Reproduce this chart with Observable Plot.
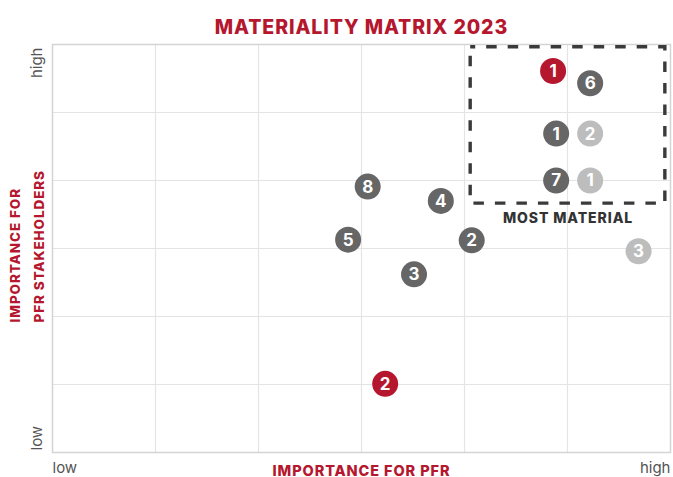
<!DOCTYPE html>
<html>
<head>
<meta charset="utf-8">
<script src="https://cdn.jsdelivr.net/npm/d3@7"></script>
<script src="https://cdn.jsdelivr.net/npm/@observablehq/plot@0.6"></script>
<style>
  html, body { margin: 0; padding: 0; background: #fff; }
  #chart svg { display: block; }
  #chart svg text { font-family: "Inter", sans-serif; }
  #chart svg g[font-weight="800"] text { letter-spacing: 0.9px; }
</style>
</head>
<body>
<div id="chart"></div>
<script>
// Point labels, positions (0 = low, 6 = high) and group
const labels = ["1", "6", "1", "2", "7", "1", "8", "4", "5", "2", "3", "3", "2"];
const importancePFR = [4.86, 5.22, 4.89, 5.22, 4.89, 5.22, 3.06, 3.77, 2.87, 4.07, 3.51, 5.69, 3.23];
const importanceStakeholders = [5.61, 5.43, 4.69, 4.69, 4.00, 4.00, 3.91, 3.70, 3.13, 3.12, 2.62, 2.96, 1.01];
const groups = ["red", "dark", "dark", "light", "dark", "light", "dark", "dark", "dark", "dark", "dark", "light", "red"];
const groupNames = ["red", "dark", "light"];
const groupColors = ["#b5172e", "#666666", "#bdbdbd"];
const gridTicks = [1, 2, 3, 4, 5];
const boxX = [4.06, 5.95];
const boxY = [3.66, 5.96];
const boxLabel = "MOST MATERIAL";
const xTickLabels = ["low", "high"];
const yTickLabels = ["low", "high"];

const points = labels.map((l, i) => ({label: l, x: importancePFR[i], y: importanceStakeholders[i], g: groups[i]}));
const red = "#b5172e";
const ff = "Inter";

const chart = Plot.plot({
  width: 673,
  height: 477,
  marginTop: 44,
  marginBottom: 25,
  marginLeft: 52,
  marginRight: 3,
  x: {domain: [0, 6], axis: null},
  y: {domain: [0, 6], axis: null},
  color: {domain: groupNames, range: groupColors},
  marks: [
    Plot.ruleX(gridTicks, {stroke: "#e4e4e4", strokeWidth: 1.2}),
    Plot.ruleY(gridTicks, {stroke: "#e4e4e4", strokeWidth: 1.2}),
    Plot.frame({stroke: "#d4d4d4", strokeWidth: 1.5}),
    Plot.rect([{x1: boxX[0], x2: boxX[1], y1: boxY[0], y2: boxY[1]}], {
      x1: "x1", x2: "x2", y1: "y1", y2: "y2",
      fill: "none", stroke: "#3a3a3a", strokeWidth: 3.4,
      strokeDasharray: "10.5,11", strokeDashoffset: 5.5
    }),
    Plot.text([boxLabel], {
      x: (boxX[0] + boxX[1]) / 2, y: boxY[0], dy: 15,
      text: d => d, fontSize: 14, fontWeight: 800, fill: "#333", fontFamily: ff
    }),
    Plot.dot(points, {x: "x", y: "y", r: 13, fill: "g", stroke: "none"}),
    Plot.text(points, {x: "x", y: "y", text: "label", fill: "white", fontSize: 17, fontWeight: "bold", dy: 0.5, fontFamily: ff}),
    // axis end labels
    Plot.text([xTickLabels[0]], {x: 0, frameAnchor: "bottom", dy: 20, textAnchor: "start", text: d => d, fontSize: 15, fill: "#555", fontFamily: ff}),
    Plot.text([xTickLabels[1]], {x: 6, frameAnchor: "bottom", dy: 20, textAnchor: "end", text: d => d, fontSize: 15, fill: "#555", fontFamily: ff}),
    Plot.text([yTickLabels[0]], {y: 0, frameAnchor: "left", dx: -15, dy: -2, rotate: -90, textAnchor: "start", text: d => d, fontSize: 15, fill: "#555", fontFamily: ff}),
    Plot.text([yTickLabels[1]], {y: 6, frameAnchor: "left", dx: -15, dy: 3, rotate: -90, textAnchor: "end", text: d => d, fontSize: 15, fill: "#555", fontFamily: ff}),
    // axis titles
    Plot.text(["IMPORTANCE FOR PFR"], {frameAnchor: "bottom", dy: 23, text: d => d, fontSize: 14.5, fontWeight: 800, fill: red, fontFamily: ff}),
    Plot.text(["IMPORTANCE FOR\nPFR STAKEHOLDERS"], {frameAnchor: "left", dx: -28, dy: 74, rotate: -90, textAnchor: "start", lineHeight: 1.72, text: d => d, fontSize: 13.5, fontWeight: 800, fill: red, fontFamily: ff}),
    // title
    Plot.text(["MATERIALITY MATRIX 2023"], {frameAnchor: "top", dy: -24, text: d => d, fontSize: 19.5, fontWeight: 800, fill: red, fontFamily: ff})
  ]
});
document.getElementById("chart").appendChild(chart);
</script>
</body>
</html>
